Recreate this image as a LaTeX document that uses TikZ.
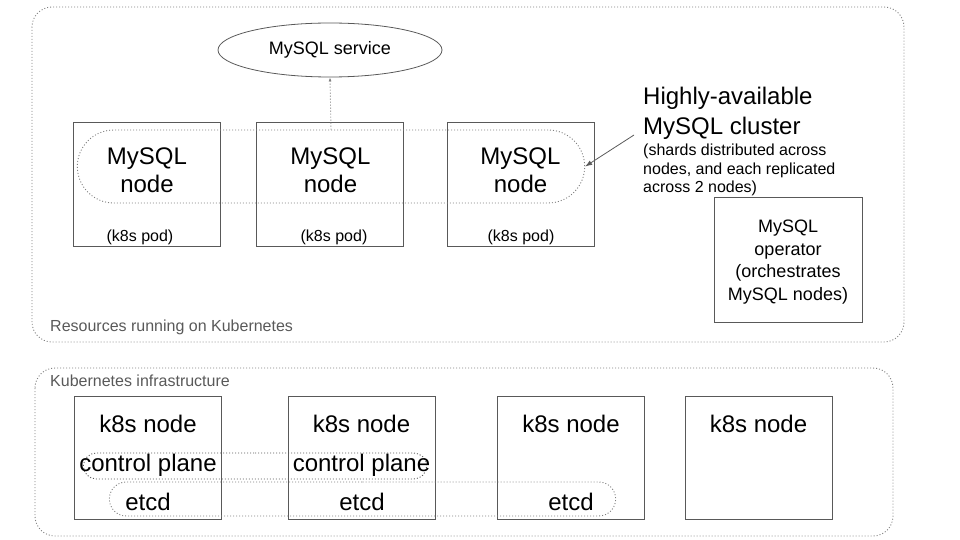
\documentclass[tikz,border=0pt]{standalone}
\usepackage{fontspec}
\setmainfont{Liberation Sans}
\usepackage{tikz}
\usetikzlibrary{arrows.meta,arrows}
\usetikzlibrary{shapes.geometric,shapes.misc}
\usetikzlibrary{positioning}
\definecolor{boxgray}{HTML}{595959}
\definecolor{dotgray}{HTML}{808080}
\tikzset{
  frame/.style={draw=dotgray, line width=0.9pt, dash pattern=on 1pt off 2pt, rounded corners=20pt},
  box/.style={rectangle, draw=boxgray, line width=1pt, minimum width=147pt, minimum height=124pt},
  group/.style={rounded rectangle, draw=dotgray, line width=0.9pt, dash pattern=on 1pt off 2pt},
  bigtext/.style={font=\fontsize{24}{28}\selectfont, align=center, inner sep=0pt},
  smalltext/.style={font=\fontsize{16}{18.5}\selectfont, inner sep=0pt},
  graytext/.style={font=\fontsize{16}{18.5}\selectfont, text=boxgray, inner sep=0pt, anchor=west},
  arrow/.style={draw=boxgray, -{Latex[length=7pt, width=5pt]}, line width=0.8pt}
  }

\begin{document}
\begin{tikzpicture}[x=1pt, y=-1pt]
	\useasboundingbox (0,0) rectangle (960,540);
	% Frame
	\draw [frame] (32,7) rectangle (904,342);
	\draw [frame] (35,368) rectangle (893,536);
	\node[graytext] (restitle) at (50,327) {Resources running on Kubernetes};
	\node[graytext] (inftitle) at (50,381) {Kubernetes infrastructure};

	% MySQL pods
	\node[box] (pod1) at (147,184.5) {};
	\node[box] (pod2) at (330,184.5) {};
	\node[box] (pod3) at (520.5,184.5) {};
	\node[bigtext] (pod1name) at (147,170) {MySQL\\node};
	\node[bigtext] (pod2name) at (330.5,170) {MySQL\\node};
	\node[bigtext] (pod3name) at (520.5,170) {MySQL\\node};
	\node[smalltext] (pod1label) at (140,237) {(k8s pod)};
	\node[smalltext] (pod2label) at (334,237) {(k8s pod)};
	\node[smalltext] (pod3label) at (521,237) {(k8s pod)};
	\node[group, minimum width=514pt, minimum height=73pt] (cluster) at (331,166.5) {};

	% Service and operator
	\node[ellipse, draw=boxgray, line width=0.8pt, minimum width=224pt, minimum height=54pt, font=\fontsize{18}{21}\selectfont] (service) at (330,50) {MySQL service};
	\node[box, minimum width=148pt, minimum height=125pt] (operator) at (788,259.5) {};
	\node[align=center, inner sep=0pt, font=\fontsize{18}{22.7}\selectfont] (opname) at (788,262) {MySQL\\operator\\(orchestrates\\MySQL nodes)};

	% Cluster note
	\node[bigtext, anchor=west, align=left, font=\fontsize{24}{30}\selectfont] (hatitle) at (643,113) {Highly-available\\MySQL cluster};
	\node[smalltext, anchor=west, align=left] (hanote) at (643,170) {(shards distributed across\\nodes, and each replicated\\across 2 nodes)};
	\coordinate (notept) at (634,135);

	% k8s nodes
	\node[box, minimum height=123pt] (k8s1) at (147.5,457.5) {};
	\node[box, minimum height=123pt] (k8s2) at (361.5,457.5) {};
	\node[box, minimum height=123pt] (k8s3) at (570.5,457.5) {};
	\node[box, minimum height=123pt] (k8s4) at (758.5,457.5) {};
	\node[bigtext] (k8s1name) at (148,424) {k8s node};
	\node[bigtext] (k8s2name) at (361.5,424) {k8s node};
	\node[bigtext] (k8s3name) at (571,424) {k8s node};
	\node[bigtext] (k8s4name) at (758.5,424) {k8s node};
	\node[group, draw=boxgray, minimum width=350pt, minimum height=26pt] (ctrl) at (255,466) {};
	\node[group, minimum width=513pt, minimum height=34pt] (etcd) at (362.5,499) {};
	\node[bigtext] (ctrl1) at (148,465) {control plane};
	\node[bigtext] (ctrl2) at (361.5,465) {control plane};
	\node[bigtext] (etcd1) at (148,502) {etcd};
	\node[bigtext] (etcd2) at (362,502) {etcd};
	\node[bigtext] (etcd3) at (571,502) {etcd};

	% Arrow
	\draw [draw=dotgray, line width=0.9pt, dash pattern=on 1pt off 2pt, -{Latex[length=4pt, width=3pt]}] (cluster.north) -- (service.south);
	\draw [arrow] (notept) -- (cluster.east);
\end{tikzpicture}
\end{document}
